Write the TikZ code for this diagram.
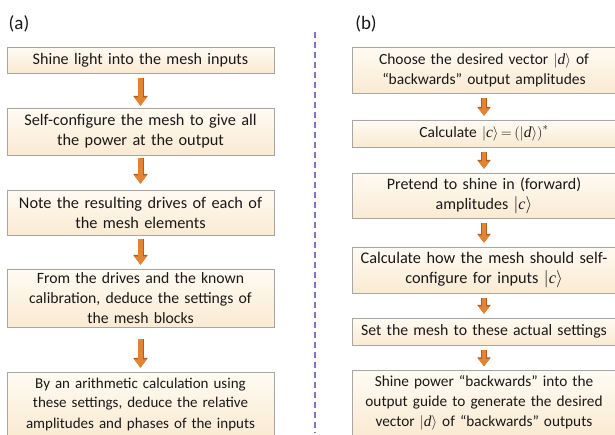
\documentclass[tikz,border=0pt]{standalone}
\usepackage{fontspec}
\setmainfont{Carlito}
\newfontfamily\ketfont{Liberation Serif}
\usetikzlibrary{arrows.meta,shadows}

% Dirac ket in a Times-like italic.
\newcommand{\ket}[1]{$|${\ketfont\itshape #1}$\rangle$}

\begin{document}
\begin{tikzpicture}[
    x=1pt,
    y=-1pt,
    stepbox/.style={draw=black!35, line width=0.4pt,
      top color=flowTop, bottom color=flowBottom,
      drop shadow={shadow xshift=1.1pt, shadow yshift=-1.1pt, fill=black!50, opacity=0.9},
      align=center, inner sep=0pt, text=black!90,
      font=\fontsize{15}{19.5}\selectfont},
    size/.style={font=\fontsize{#1}{20}\selectfont},
    flow/.style={draw=flowOrange, line width=4.6pt,
      -{Triangle[width=12pt, length=8.5pt]},
      preaction={draw=flowOrangeDark, line width=6pt,
        -{Triangle[width=14pt, length=10pt]}}},
    short flow/.style={draw=flowOrange, line width=4.6pt,
      -{Triangle[width=11pt, length=7.5pt]},
      preaction={draw=flowOrangeDark, line width=6pt,
        -{Triangle[width=13pt, length=9pt]}}},
    panel label/.style={font=\fontsize{19}{22}\selectfont, text=black!90, inner sep=0pt},
    divider/.style={draw=dividerPurple, line width=2.4pt, dash pattern=on 6pt off 4pt}
]

\definecolor{flowTop}{RGB}{255,251,243}
\definecolor{flowBottom}{RGB}{250,234,210}
\definecolor{flowOrange}{RGB}{226,132,52}
\definecolor{flowOrangeDark}{RGB}{178,92,32}
\definecolor{dividerPurple}{RGB}{142,108,192}

\useasboundingbox (0,0) rectangle (615,435);

% Panel labels and divider.
\node[panel label] (labelA) at (19,24) {(a)};
\node[panel label] (labelB) at (366,24) {(b)};
\coordinate (divTop) at (315,32);
\coordinate (divBottom) at (315,433);
\draw[divider] (divTop) -- (divBottom);

% Column (a): measuring the inputs.
\node[stepbox, size=16.1, text width=267pt, minimum height=26pt] (a1) at (140.5,60)
  {Shine light into the mesh inputs};
\node[stepbox, size=16.3, text width=267pt, minimum height=47pt] (a2) at (140.5,131.5)
  {Self-configure the mesh to give all\\ the power at the output};
\node[stepbox, size=16.3, text width=267pt, minimum height=45pt] (a3) at (140.5,212.5)
  {Note the resulting drives of each of\\ the mesh elements};
\node[stepbox, size=15.7, text width=267pt, minimum height=58pt] (a4) at (140.5,298)
  {From the drives and the known\\ calibration, deduce the settings of\\ the mesh blocks};
\node[stepbox, size=15, text width=267pt, minimum height=64pt] (a5) at (140.5,404)
  {By an arithmetic calculation using\\ these settings, deduce the relative\\ amplitudes and phases of the inputs};

\draw[flow, shorten <=5pt, shorten >=2pt] (a1) -- (a2);
\draw[flow, shorten <=3pt, shorten >=6pt] (a2) -- (a3);
\draw[flow, shorten <=4pt, shorten >=4pt] (a3) -- (a4);
\draw[flow, shorten <=12pt, shorten >=4pt] (a4) -- (a5);

% Column (b): generating a backwards output.
\node[stepbox, size=15.5, text width=264pt, minimum height=46pt] (b1) at (484,70)
  {Choose the desired vector \ket{d} of\\ ``backwards'' output amplitudes};
\node[stepbox, size=15.5, text width=264pt, minimum height=27pt] (b2) at (484,133.5)
  {Calculate \ket{c}$\,{=}\,\bigl($\ket{d}$\bigr)^{*}$};
\node[stepbox, size=16, text width=264pt, minimum height=45pt] (b3) at (484,195.5)
  {Pretend to shine in (forward)\\ amplitudes \ket{c}};
\node[stepbox, size=16.3, text width=264pt, minimum height=46pt] (b4) at (484,270)
  {Calculate how the mesh should self-\\ configure for inputs \ket{c}};
\node[stepbox, size=15.8, text width=264pt, minimum height=27pt] (b5) at (484,331.5)
  {Set the mesh to these actual settings};
\node[stepbox, size=15.3, text width=264pt, minimum height=65pt] (b6) at (484,403)
  {Shine power ``backwards'' into the\\ output guide to generate the desired\\ vector \ket{d} of ``backwards'' outputs};

\foreach \from/\to in {b1/b2, b2/b3, b3/b4, b4/b5, b5/b6}
  \draw[short flow, shorten <=5pt, shorten >=4pt] (\from) -- (\to);

\end{tikzpicture}
\end{document}
